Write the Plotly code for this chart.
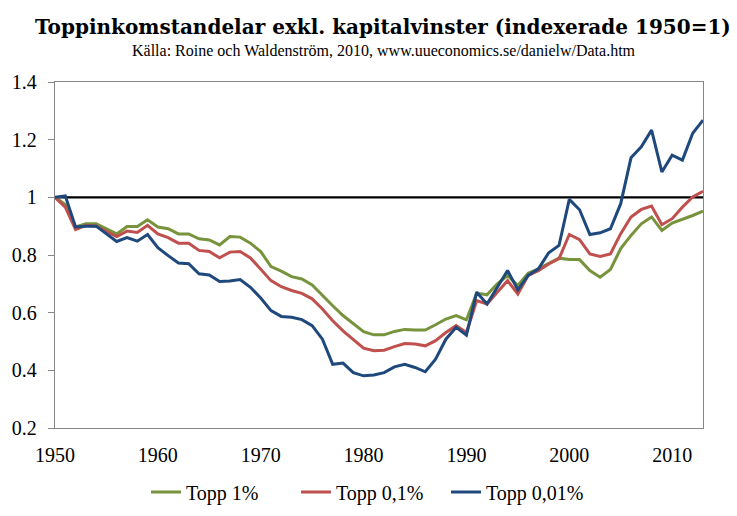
import plotly.graph_objects as go

years = list(range(1950, 2014))

topp_1 = [1.000, 0.975, 0.897, 0.908, 0.908, 0.891, 0.873, 0.899, 0.899, 0.922,
          0.897, 0.891, 0.873, 0.873, 0.856, 0.852, 0.835, 0.864, 0.862, 0.841,
          0.812, 0.760, 0.744, 0.725, 0.717, 0.696, 0.659, 0.624, 0.590, 0.561,
          0.534, 0.523, 0.523, 0.535, 0.542, 0.540, 0.540, 0.558, 0.578, 0.590,
          0.575, 0.668, 0.662, 0.700, 0.729, 0.694, 0.737, 0.752, 0.771, 0.789,
          0.784, 0.784, 0.746, 0.723, 0.750, 0.822, 0.868, 0.908, 0.932, 0.885,
          0.911, 0.923, 0.937, 0.952]

topp_01 = [1.000, 0.966, 0.888, 0.903, 0.900, 0.883, 0.864, 0.883, 0.878, 0.903,
           0.873, 0.860, 0.841, 0.841, 0.816, 0.812, 0.790, 0.810, 0.812, 0.790,
           0.752, 0.711, 0.690, 0.677, 0.667, 0.648, 0.613, 0.572, 0.537, 0.508,
           0.477, 0.468, 0.470, 0.482, 0.493, 0.491, 0.485, 0.503, 0.531, 0.555,
           0.531, 0.642, 0.630, 0.671, 0.711, 0.665, 0.729, 0.746, 0.769, 0.787,
           0.871, 0.853, 0.804, 0.795, 0.804, 0.874, 0.932, 0.958, 0.970, 0.905,
           0.926, 0.966, 1.001, 1.021]

topp_001 = [1.000, 1.005, 0.897, 0.900, 0.900, 0.873, 0.847, 0.860, 0.848, 0.871,
            0.825, 0.798, 0.772, 0.770, 0.735, 0.731, 0.708, 0.710, 0.715, 0.688,
            0.651, 0.607, 0.587, 0.584, 0.576, 0.555, 0.508, 0.421, 0.425, 0.392,
            0.381, 0.384, 0.392, 0.412, 0.421, 0.410, 0.395, 0.439, 0.508, 0.549,
            0.522, 0.671, 0.630, 0.688, 0.746, 0.679, 0.729, 0.752, 0.808, 0.833,
            0.993, 0.957, 0.871, 0.877, 0.891, 0.978, 1.137, 1.175, 1.233, 1.088,
            1.146, 1.129, 1.222, 1.268]

series_names = ["Topp 1%", "Topp 0,1%", "Topp 0,01%"]
series_colors = ["#77933C", "#C0504D", "#1F497D"]

x_tick_vals = [1950, 1960, 1970, 1980, 1990, 2000, 2010]
y_tick_vals = [0.2, 0.4, 0.6, 0.8, 1.0, 1.2, 1.4]
y_tick_text = ["0.2", "0.4", "0.6", "0.8", "1", "1.2", "1.4"]

title_text = "Toppinkomstandelar exkl. kapitalvinster (indexerade 1950=1)"
subtitle_text = "Källa: Roine och Waldenström, 2010, www.uueconomics.se/danielw/Data.htm"

SERIF = "Liberation Serif, Times New Roman, serif"
TITLE_FONT = "DejaVu Serif, serif"

# screen geometry of the plot area (page has an 8px body offset)
PL, PT, PW, PH = 55, 82, 648, 346

fig = go.Figure()
for name, vals, col in zip(series_names, [topp_1, topp_01, topp_001], series_colors):
    fig.add_trace(go.Scatter(x=years, y=vals, mode="lines", name=name,
                             line=dict(color=col, width=3)))

fig.add_shape(type="line", xref="paper", yref="y", x0=0, x1=1, y0=1, y1=1,
              line=dict(color="black", width=2.2), layer="below")

fig.add_annotation(text="<b>" + title_text + "</b>", xref="paper", yref="paper",
                   x=(383 - PL) / PW, y=1 + (PT - 27.5) / PH, xanchor="center", yanchor="middle",
                   showarrow=False, font=dict(family=TITLE_FONT, size=20, color="black"))
fig.add_annotation(text=subtitle_text, xref="paper", yref="paper",
                   x=(384 - PL) / PW, y=1 + (PT - 50) / PH, xanchor="center", yanchor="middle",
                   showarrow=False, font=dict(family=SERIF, size=16, color="black"))

fig.update_layout(
    width=729, height=508,
    margin=dict(l=47, r=34, t=74, b=88, autoexpand=False),
    paper_bgcolor="white", plot_bgcolor="white",
    font=dict(family=SERIF, size=20, color="black"),
    showlegend=True,
    legend=dict(orientation="h", x=(371 - PL) / PW, xanchor="center",
                y=-(492 - PT - PH) / PH, yanchor="middle",
                font=dict(family=SERIF, size=20), itemwidth=30,
                entrywidth=105, entrywidthmode="pixels",
                bgcolor="rgba(0,0,0,0)"),
)
fig.update_xaxes(range=[1950, 2013], tickvals=x_tick_vals, showgrid=False,
                 zeroline=False, showline=True, linecolor="#868686", linewidth=1.3,
                 mirror=True, ticks="", ticklabelstandoff=9, automargin=False,
                 tickfont=dict(family=SERIF, size=20))
fig.update_yaxes(range=[0.2, 1.4], tickvals=y_tick_vals, ticktext=y_tick_text,
                 showgrid=False, zeroline=False, showline=True, linecolor="#868686",
                 linewidth=1.3, mirror=True, ticks="outside", ticklen=6,
                 tickcolor="#868686", tickwidth=1.3, ticklabelstandoff=7,
                 automargin=False, tickfont=dict(family=SERIF, size=20))

fig.write_html("out.html")
